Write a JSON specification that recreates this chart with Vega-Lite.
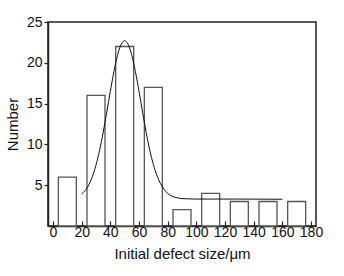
{
  "$schema": "https://vega.github.io/schema/vega-lite/v6.json",
  "width": 268,
  "height": 204,
  "autosize": "none",
  "padding": {"left": 48, "top": 22, "right": 28, "bottom": 50},
  "background": "white",
  "config": {
    "font": "Liberation Sans",
    "view": {"stroke": "#222", "strokeWidth": 1.5},
    "axis": {"grid": false, "domainColor": "#222", "domainWidth": 1.5, "tickColor": "#222", "tickWidth": 1.2, "labelColor": "#111", "titleColor": "#111", "labelFontSize": 14, "titleFontSize": 15, "titleFontWeight": "normal"}
  },
  "datasets": {
    "bars": [
      {"size": 10, "count": 6},
      {"size": 30, "count": 16},
      {"size": 50, "count": 22},
      {"size": 70, "count": 17},
      {"size": 90, "count": 2},
      {"size": 110, "count": 4},
      {"size": 130, "count": 3},
      {"size": 150, "count": 3},
      {"size": 170, "count": 3}
    ],
    "fit": [
      {"size": 20, "count": 3.91},
      {"size": 22.5, "count": 4.36},
      {"size": 25, "count": 5.05},
      {"size": 27.5, "count": 6.07},
      {"size": 30, "count": 7.47},
      {"size": 32.5, "count": 9.27},
      {"size": 35, "count": 11.46},
      {"size": 37.5, "count": 13.94},
      {"size": 40, "count": 16.51},
      {"size": 42.5, "count": 18.92},
      {"size": 45, "count": 20.91},
      {"size": 47.5, "count": 22.24},
      {"size": 50, "count": 22.7},
      {"size": 52.5, "count": 22.24},
      {"size": 55, "count": 20.91},
      {"size": 57.5, "count": 18.92},
      {"size": 60, "count": 16.51},
      {"size": 62.5, "count": 13.94},
      {"size": 65, "count": 11.46},
      {"size": 67.5, "count": 9.3},
      {"size": 70, "count": 7.55},
      {"size": 72.5, "count": 6.2},
      {"size": 75, "count": 5.2},
      {"size": 77.5, "count": 4.5},
      {"size": 80, "count": 4.0},
      {"size": 82.5, "count": 3.7},
      {"size": 85, "count": 3.52},
      {"size": 87.5, "count": 3.42},
      {"size": 90, "count": 3.36},
      {"size": 95, "count": 3.32},
      {"size": 100, "count": 3.3},
      {"size": 130, "count": 3.3},
      {"size": 160, "count": 3.28}
    ]
  },
  "encoding": {
    "x": {"field": "size", "type": "quantitative", "scale": {"domain": [0, 180], "nice": false, "zero": false},
      "axis": {"values": [0, 20, 40, 60, 80, 100, 120, 140, 160, 180], "labelOverlap": false, "labelBound": false, "tickSize": -5, "labelPadding": 4, "title": "Initial defect size/μm", "titlePadding": 7, "labelFlush": false}},
    "y": {"field": "count", "type": "quantitative", "scale": {"domain": [0, 25], "nice": false},
      "axis": {"values": [5, 10, 15, 20, 25], "labelOverlap": false, "tickSize": 4, "labelPadding": 2, "title": "Number", "titlePadding": 6}}
  },
  "layer": [
    {
      "data": {"name": "bars"},
      "mark": {"type": "bar", "width": 18, "fill": "white", "stroke": "#555", "strokeWidth": 1.3}
    },
    {
      "data": {"name": "fit"},
      "mark": {"type": "line", "color": "#111", "strokeWidth": 1, "interpolate": "monotone"}
    }
  ]
}
